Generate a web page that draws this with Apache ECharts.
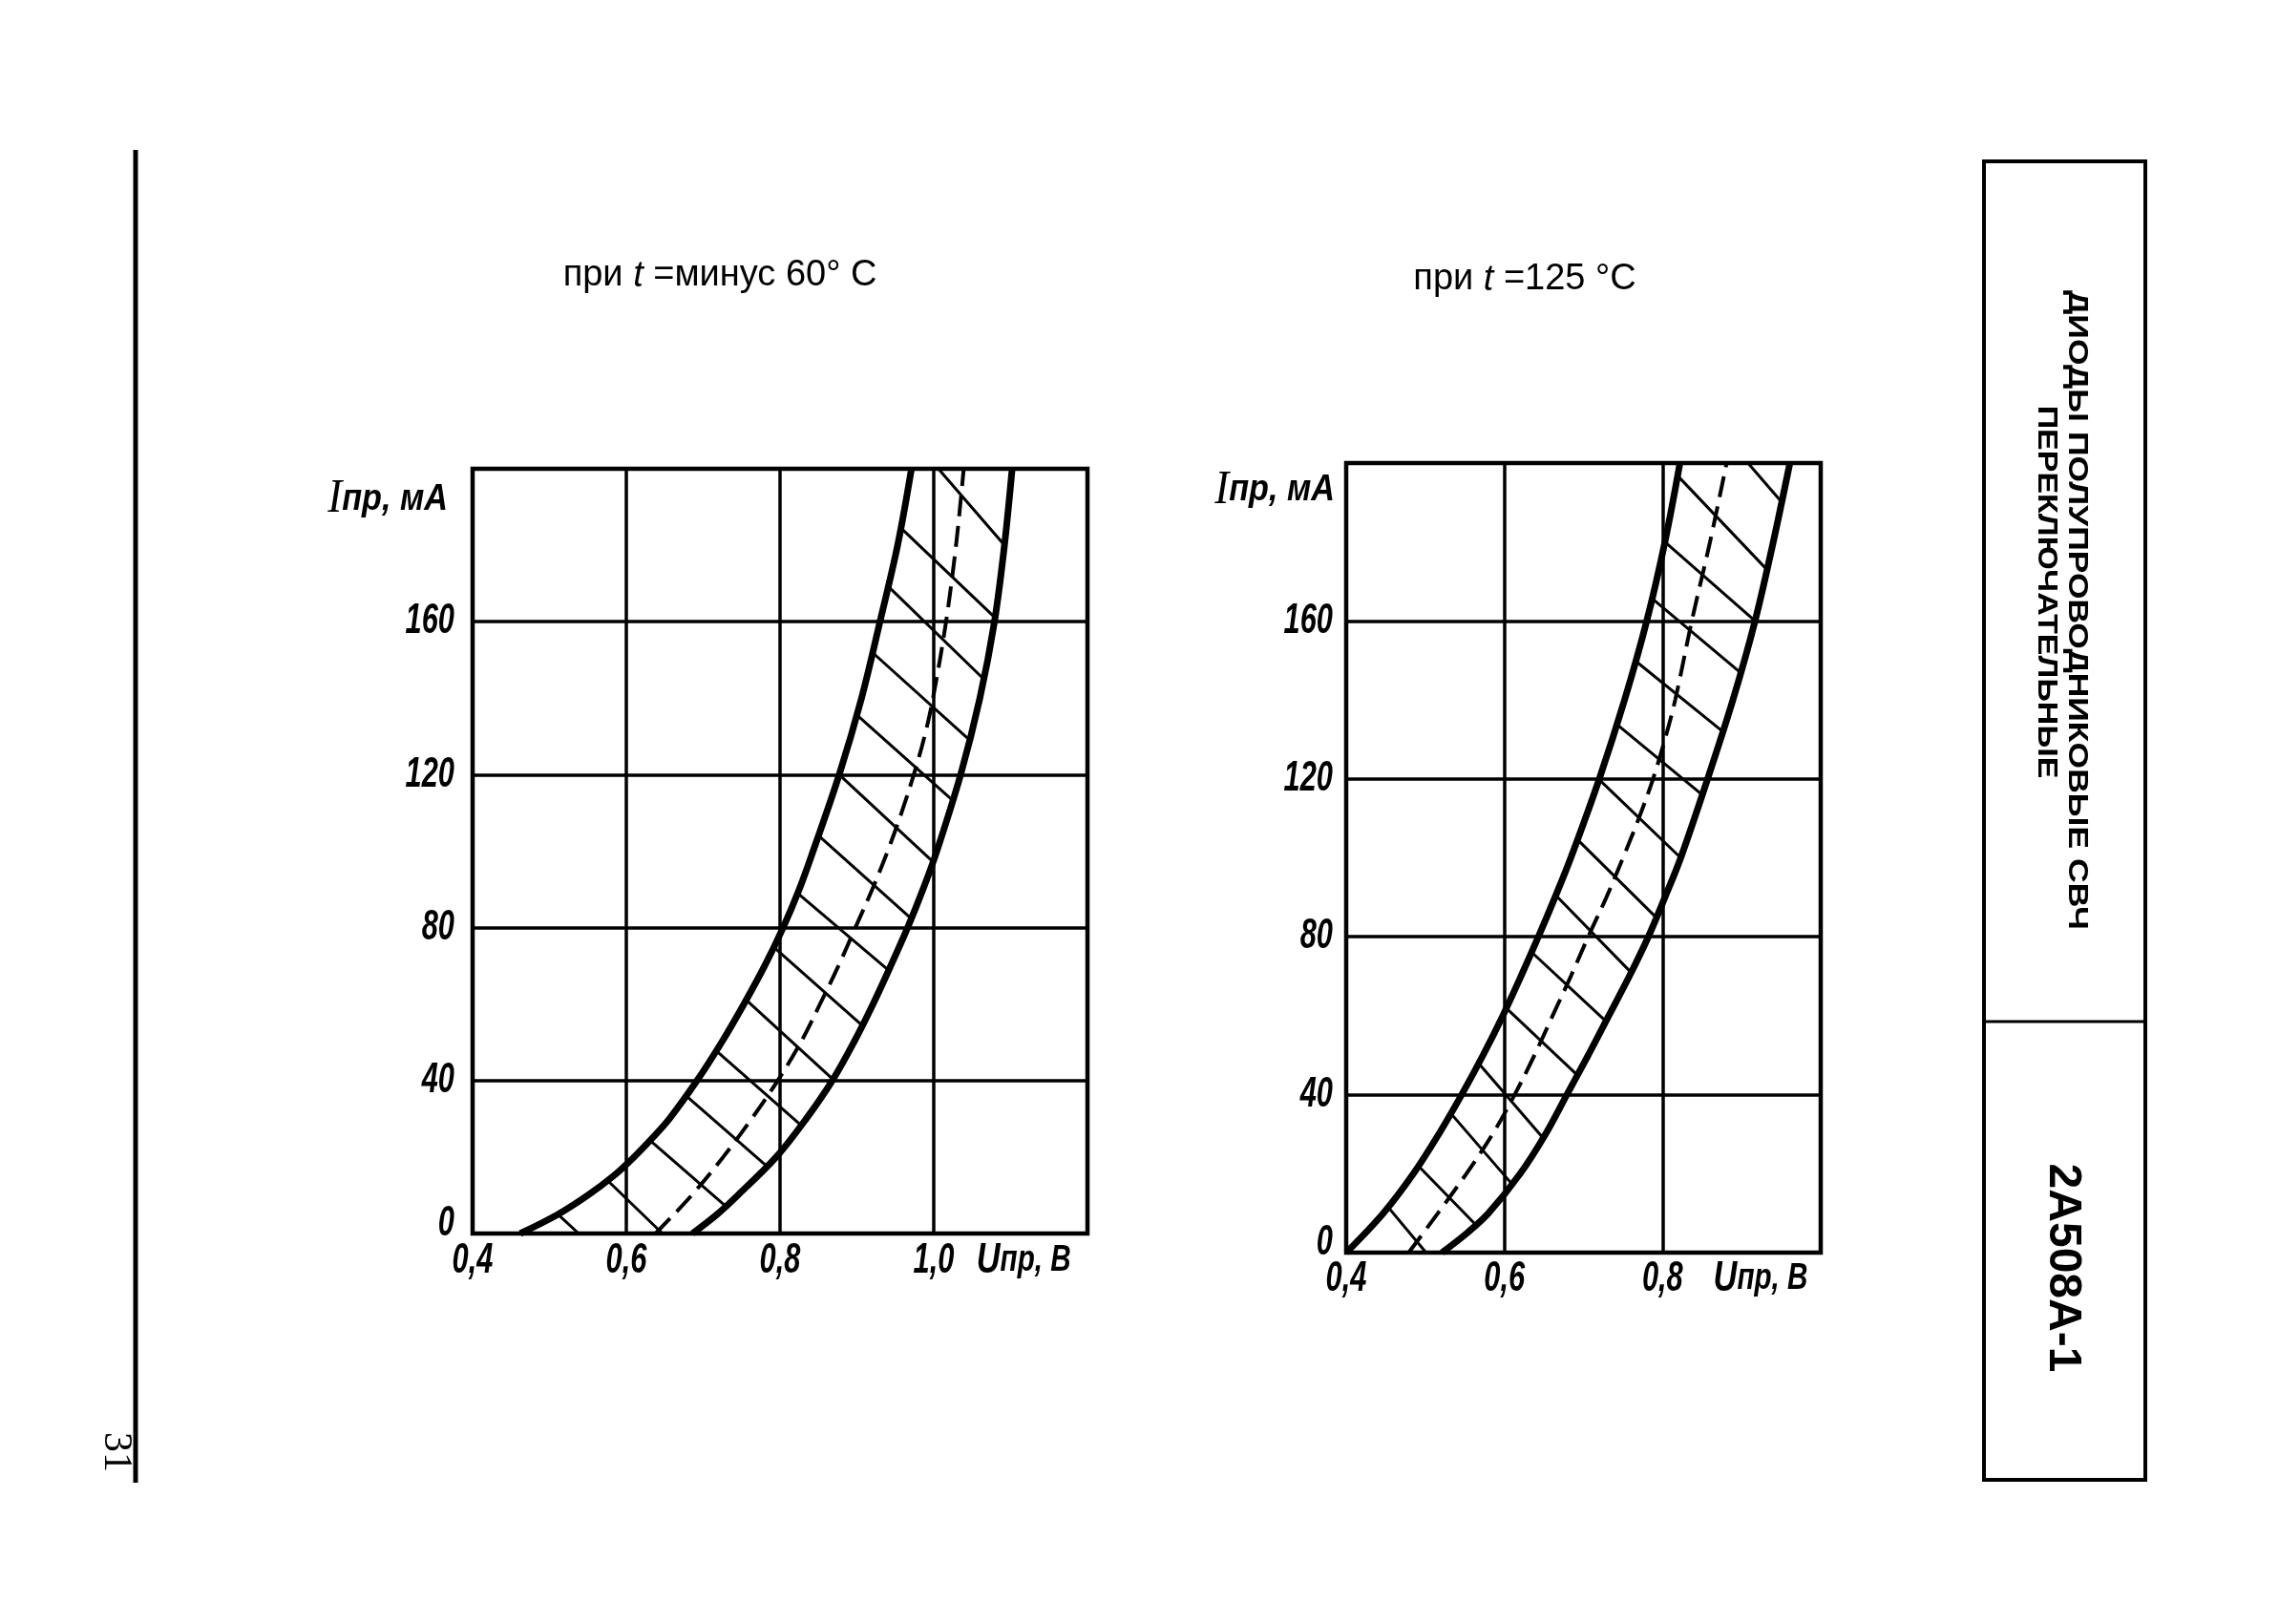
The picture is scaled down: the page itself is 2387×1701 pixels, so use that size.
<!DOCTYPE html>
<html><head><meta charset="utf-8">
<script src="https://cdn.jsdelivr.net/npm/echarts@6/dist/echarts.min.js"></script>
<style>html,body{margin:0;padding:0;background:#fff}#c{width:2387px;height:1701px}</style>
</head><body><div id="c"></div>
<script>
// ---------- DATA ----------
const titleCold = ['при ', 't', ' =минус 60° С'];
const titleHot = ['при ', 't', ' =125 °С'];
const yTickValues = [0, 40, 80, 120, 160];
const yTickLabels = ['0', '40', '80', '120', '160'];
const xTickValuesCold = [0.4, 0.6, 0.8, 1.0];
const xTickLabelsCold = ['0,4', '0,6', '0,8', '1,0'];
const xTickValuesHot = [0.4, 0.6, 0.8];
const xTickLabelsHot = ['0,4', '0,6', '0,8'];
const sideTitle1 = 'ДИОДЫ ПОЛУПРОВОДНИКОВЫЕ СВЧ';
const sideTitle2 = 'ПЕРЕКЛЮЧАТЕЛЬНЫЕ';
const sideCode = '2А508А-1';
const pageNumber = '31';

// t = -60 °C : [U, I]
const coldMin = [[0.462,0],[0.511,5],[0.550,10],[0.583,15],[0.610,20],[0.634,25],[0.656,30],[0.692,40],[0.724,50],[0.753,60],[0.780,70],[0.804,80],[0.825,90],[0.843,100],[0.877,120],[0.906,140],[0.930,160],[0.953,180],[0.971,200]];
const coldTyp = [[0.638,0],[0.685,10],[0.726,20],[0.763,30],[0.797,40],[0.827,50],[0.852,60],[0.876,70],[0.898,80],[0.920,90],[0.940,100],[0.958,110],[0.974,120],[0.988,130],[0.999,140],[1.016,160],[1.029,180],[1.039,200]];
const coldMax = [[0.686,0],[0.718,5],[0.745,10],[0.795,20],[0.834,30],[0.868,40],[0.896,50],[0.921,60],[0.944,70],[0.966,80],[0.986,90],[1.004,100],[1.035,120],[1.060,140],[1.079,160],[1.092,180],[1.102,200]];
const coldHatch = [[0.511,5,0.538,0],[0.576,13.8,0.647,0],[0.630,24.5,0.729,7.2],[0.678,36,0.783,17.6],[0.717,47.8,0.827,28.4],[0.756,61.1,0.869,40.3],[0.793,74.7,0.907,54.4],[0.823,89.0,0.941,68.9],[0.850,104.1,0.971,82.3],[0.877,120,0.999,97.2],[0.900,135.6,1.025,113.2],[0.920,152.0,1.047,129],[0.941,169.2,1.065,145],[0.960,184,1.080,161],[1.006,200,1.092,180]];

// t = 125 °C : [U, I]
const hotMin = [[0.400,0],[0.447,10],[0.485,20],[0.517,30],[0.546,40],[0.573,50],[0.598,60],[0.621,70],[0.643,80],[0.664,90],[0.684,100],[0.720,120],[0.752,140],[0.780,160],[0.803,180],[0.822,200]];
const hotTyp = [[0.479,0],[0.516,10],[0.552,20],[0.585,30],[0.613,40],[0.638,50],[0.661,60],[0.684,70],[0.706,80],[0.729,90],[0.750,100],[0.770,110],[0.788,120],[0.803,130],[0.816,140],[0.837,160],[0.860,180],[0.881,200]];
const hotMax = [[0.521,0],[0.553,5],[0.580,10],[0.620,20],[0.652,30],[0.679,40],[0.706,50],[0.732,60],[0.758,70],[0.782,80],[0.803,90],[0.823,100],[0.857,120],[0.889,140],[0.917,160],[0.940,180],[0.961,200]];
const hotHatch = [[0.4535,11.4,0.501,0],[0.491,22,0.564,7],[0.533,35.1,0.609,17.5],[0.568,47.8,0.649,29],[0.602,62,0.692,45],[0.635,76,0.729,58.5],[0.665,90.5,0.760,71],[0.693,104.5,0.794,84.5],[0.719,120,0.823,100],[0.741,134,0.850,116],[0.765,150,0.876,132],[0.785,166,0.898,147],[0.803,180,0.917,160],[0.818,197,0.932,173],[0.908,200,0.951,190]];

// ---------- CHART ----------
const chart = echarts.init(document.getElementById('c'), null, {renderer: 'canvas'});
const tickFont = "'Liberation Sans', Arial, sans-serif";
function xAxisCfg(grid, max) {
  return {
    type: 'value', gridIndex: grid, min: 0.4, max: max, interval: 0.2,
    axisLine: {show: true, lineStyle: {color: '#000', width: 4}},
    axisTick: {show: false}, axisLabel: {show: false},
    splitLine: {show: true, lineStyle: {color: '#000', width: 3.5}}
  };
}
function yAxisCfg(grid) {
  return {
    type: 'value', gridIndex: grid, min: 0, max: 200, interval: 40,
    axisLine: {show: true, lineStyle: {color: '#000', width: 4}},
    axisTick: {show: false}, axisLabel: {show: false},
    splitLine: {show: true, lineStyle: {color: '#000', width: 3.5}}
  };
}
function curve(data, grid, dashed) {
  return {
    type: 'line', xAxisIndex: grid, yAxisIndex: grid, data: data, showSymbol: false, smooth: 0.35,
    silent: true, z: 5,
    lineStyle: dashed ? {color: '#000', width: 4, type: [22, 10]} : {color: '#000', width: 7}
  };
}
function hatch(data, grid) {
  return {
    type: 'lines', coordinateSystem: 'cartesian2d', xAxisIndex: grid, yAxisIndex: grid, silent: true, z: 3,
    lineStyle: {color: '#000', width: 3, opacity: 1, curveness: 0},
    data: data.map(h => ({coords: [[h[0], h[1]], [h[2], h[3]]]}))
  };
}

chart.setOption({
  animation: false,
  backgroundColor: '#fff',
  grid: [
    {left: 495, top: 491, width: 644, height: 801, show: true, borderColor: '#000', borderWidth: 4.5, backgroundColor: 'transparent'},
    {left: 1410, top: 485, width: 497, height: 827, show: true, borderColor: '#000', borderWidth: 4.5, backgroundColor: 'transparent'}
  ],
  xAxis: [xAxisCfg(0, 1.2), xAxisCfg(1, 1.0)],
  yAxis: [yAxisCfg(0), yAxisCfg(1)],
  series: [
    hatch(coldHatch, 0), curve(coldMin, 0, false), curve(coldTyp, 0, true), curve(coldMax, 0, false),
    hatch(hotHatch, 1), curve(hotMin, 1, false), curve(hotTyp, 1, true), curve(hotMax, 1, false)
  ]
});

// ---------- TEXT (positioned through the axes' own scales) ----------
const tickStyle = {font: "italic bold 44px 'Liberation Sans', Arial, sans-serif", fill: '#000'};
function tickTexts(grid, xVals, xLabs, xMin, xOffY, yOffX) {
  const out = [];
  xVals.forEach((v, i) => {
    const p = chart.convertToPixel({gridIndex: grid}, [v, 0]);
    out.push({type: 'text', x: p[0], y: p[1] + xOffY, scaleX: 0.7, silent: true,
      style: Object.assign({text: xLabs[i], align: 'center', verticalAlign: 'middle'}, tickStyle)});
  });
  yTickValues.forEach((v, i) => {
    const p = chart.convertToPixel({gridIndex: grid}, [xMin, v]);
    out.push({type: 'text', x: p[0] - yOffX, y: p[1] + (v === 0 ? -10 : 0), scaleX: 0.7, silent: true,
      style: Object.assign({text: yTickLabels[i], align: 'right', verticalAlign: 'middle'}, tickStyle)});
  });
  return out;
}
const nameRich = {
  I: {fontFamily: "'Liberation Serif', serif", fontStyle: 'italic', fontSize: 50, fill: '#000'},
  U: {fontFamily: tickFont, fontStyle: 'italic', fontWeight: 'bold', fontSize: 44, fill: '#000'},
  s: {fontFamily: tickFont, fontStyle: 'italic', fontWeight: 'bold', fontSize: 38, fill: '#000'}
};
function axisNameText(grid, dataPt, dx, dy, txt, align, sx) {
  const p = chart.convertToPixel({gridIndex: grid}, dataPt);
  return {type: 'text', x: p[0] + dx, y: p[1] + dy, scaleX: sx, silent: true,
    style: {text: txt, rich: nameRich, align: align, verticalAlign: 'middle', fill: '#000'}};
}
const titleRich = {
  a: {fontFamily: "'Liberation Sans', Arial, sans-serif", fontSize: 38, fill: '#000'},
  b: {fontFamily: "'Liberation Sans', Arial, sans-serif", fontSize: 38, fontStyle: 'italic', fill: '#000'}
};
function titleText(parts, x, y) {
  return {type: 'text', x: x, y: y, silent: true,
    style: {text: '{a|' + parts[0] + '}{b|' + parts[1] + '}{a|' + parts[2] + '}', rich: titleRich, align: 'center', verticalAlign: 'middle'}};
}

chart.setOption({
  graphic: [].concat(
    tickTexts(0, xTickValuesCold, xTickLabelsCold, 0.4, 29, 19),
    tickTexts(1, xTickValuesHot, xTickLabelsHot, 0.4, 28, 14),
    [
    titleText(titleCold, 754, 289),
    titleText(titleHot, 1597, 293),
    axisNameText(0, [0.4, 192], -26, 0, '{I|I}{s|пр, мА}', 'right', 0.9),
    axisNameText(1, [0.4, 193], -12, 0, '{I|I}{s|пр, мА}', 'right', 0.9),
    axisNameText(0, [1.117, 0], 0, 29, '{U|U}{s|пр, В}', 'center', 0.78),
    axisNameText(1, [0.924, 0], 0, 28, '{U|U}{s|пр, В}', 'center', 0.78),
    {type: 'line', silent: true, shape: {x1: 142, y1: 157, x2: 142, y2: 1553}, style: {stroke: '#000', lineWidth: 5}},
    {type: 'text', x: 121, y: 1521, rotation: -Math.PI / 2, silent: true,
      style: {text: pageNumber, font: "42px 'Liberation Serif', serif", fill: '#000', align: 'center', verticalAlign: 'middle'}},
    {type: 'rect', silent: true, shape: {x: 2078, y: 169, width: 169, height: 1381}, style: {fill: 'none', stroke: '#000', lineWidth: 4}},
    {type: 'line', silent: true, shape: {x1: 2078, y1: 1070, x2: 2247, y2: 1070}, style: {stroke: '#000', lineWidth: 3}},
    {type: 'text', x: 2175, y: 639, rotation: -Math.PI / 2, scaleY: 0.85, silent: true,
      style: {text: sideTitle1, font: "bold 35.5px 'Liberation Sans', sans-serif", fill: '#000', align: 'center', verticalAlign: 'middle'}},
    {type: 'text', x: 2143, y: 620, rotation: -Math.PI / 2, scaleY: 0.85, silent: true,
      style: {text: sideTitle2, font: "bold 34px 'Liberation Sans', sans-serif", fill: '#000', align: 'center', verticalAlign: 'middle'}},
    {type: 'text', x: 2160, y: 1328, rotation: -Math.PI / 2, silent: true,
      style: {text: sideCode, font: "bold 48px 'Liberation Sans', sans-serif", fill: '#000', align: 'center', verticalAlign: 'middle'}}
    ]
  )
});
</script>
</body></html>
